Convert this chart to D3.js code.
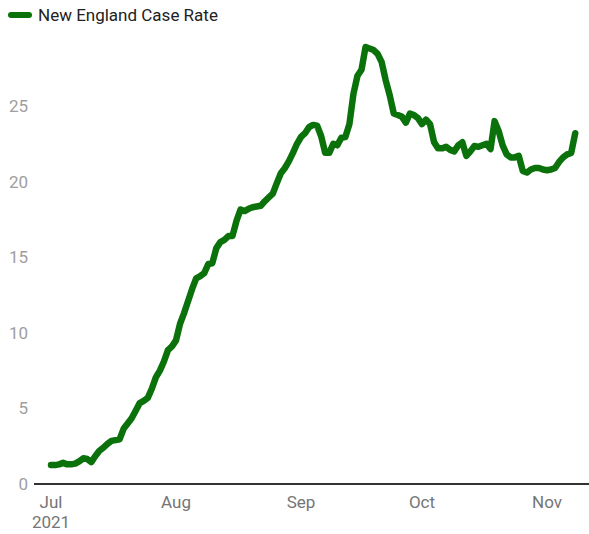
<!DOCTYPE html>
<html>
<head>
<meta charset="utf-8">
<script src="https://cdn.jsdelivr.net/npm/d3@7"></script>
<style>
  html, body { margin: 0; padding: 0; background: #fff; }
  svg { display: block; font-family: Roboto, "Noto Sans", sans-serif; }
</style>
</head>
<body>
<svg id="chart" width="589" height="534"></svg>
<script>
// ---- data ----
const seriesName = "New England Case Rate";
const startDate = "2021-07-01";
const caseRate = [
  1.25, 1.25, 1.3, 1.4, 1.3, 1.3, 1.35, 1.5, 1.7, 1.65,
  1.45, 1.85, 2.2, 2.4, 2.65, 2.85, 2.9, 2.95, 3.65, 4.0,
  4.35, 4.85, 5.35, 5.5, 5.7, 6.3, 7.05, 7.5, 8.1, 8.85,
  9.1, 9.5, 10.6, 11.3, 12.1, 12.9, 13.6, 13.75, 13.95, 14.55,
  14.6, 15.6, 16.0, 16.15, 16.4, 16.4, 17.4, 18.15, 18.05, 18.2,
  18.3, 18.35, 18.4, 18.7, 18.95, 19.2, 19.9, 20.55, 20.9, 21.35,
  21.9, 22.5, 22.95, 23.2, 23.6, 23.75, 23.7, 23.0, 21.9, 21.9,
  22.5, 22.4, 22.9, 22.95, 23.8, 25.8, 27.0, 27.4, 28.9, 28.8,
  28.7, 28.45, 27.9, 26.7, 25.7, 24.5, 24.4, 24.3, 23.9, 24.5,
  24.4, 24.2, 23.8, 24.1, 23.8, 22.6, 22.2, 22.2, 22.3, 22.1,
  22.0, 22.4, 22.6, 21.7, 22.0, 22.35, 22.3, 22.4, 22.5, 22.15,
  24.0, 23.35, 22.4, 21.8, 21.6, 21.6, 21.7, 20.7, 20.6, 20.8,
  20.9, 20.9, 20.8, 20.75, 20.8, 20.9, 21.3, 21.6, 21.8, 21.9,
  23.2
];
const yTicks = [0, 5, 10, 15, 20, 25];
const xTickDates = ["2021-07-01", "2021-08-01", "2021-09-01", "2021-10-01", "2021-11-01"];
const xTickLabels = ["Jul", "Aug", "Sep", "Oct", "Nov"];
const yearLabel = "2021";

// ---- build ----
const parse = d3.utcParse("%Y-%m-%d");
const t0 = parse(startDate);
const data = caseRate.map((v, i) => ({ date: d3.utcDay.offset(t0, i), value: v }));

const svg = d3.select("#chart");
const lineColor = "#0b720b";

const x = d3.scaleUtc()
  .domain([parse("2021-07-01"), parse("2021-11-01")])
  .range([51, 547]);
const y = d3.scaleLinear()
  .domain([0, 25])
  .range([484, 106]);

// y tick labels
svg.append("g")
  .selectAll("text")
  .data(yTicks)
  .join("text")
  .attr("x", 28)
  .attr("y", d => y(d))
  .attr("dy", "0.35em")
  .attr("text-anchor", "end")
  .attr("fill", "#9e9e9e")
  .attr("font-size", 17)
  .text(d => d);

// x tick labels
svg.append("g")
  .selectAll("text")
  .data(xTickDates)
  .join("text")
  .attr("x", d => x(parse(d)))
  .attr("y", 508)
  .attr("text-anchor", "middle")
  .attr("fill", "#757575")
  .attr("font-size", 17)
  .text((d, i) => xTickLabels[i]);

svg.append("text")
  .attr("x", x(parse(xTickDates[0])))
  .attr("y", 528)
  .attr("text-anchor", "middle")
  .attr("fill", "#757575")
  .attr("font-size", 17)
  .text(yearLabel);

// baseline
svg.append("line")
  .attr("x1", 34).attr("x2", 589)
  .attr("y1", y(0)).attr("y2", y(0))
  .attr("stroke", "#333")
  .attr("stroke-width", 2);

// line
const line = d3.line()
  .x(d => x(d.date))
  .y(d => y(d.value));

svg.append("path")
  .datum(data)
  .attr("d", line)
  .attr("fill", "none")
  .attr("stroke", lineColor)
  .attr("stroke-width", 6.5)
  .attr("stroke-linejoin", "round")
  .attr("stroke-linecap", "round");

// legend
const lg = svg.append("g");
lg.append("line")
  .attr("x1", 11).attr("x2", 29)
  .attr("y1", 15).attr("y2", 15)
  .attr("stroke", lineColor)
  .attr("stroke-width", 6)
  .attr("stroke-linecap", "round");
lg.append("text")
  .attr("x", 38)
  .attr("y", 15)
  .attr("dy", "0.35em")
  .attr("fill", "#222")
  .attr("font-size", 17)
  .text(seriesName);
</script>
</body>
</html>
